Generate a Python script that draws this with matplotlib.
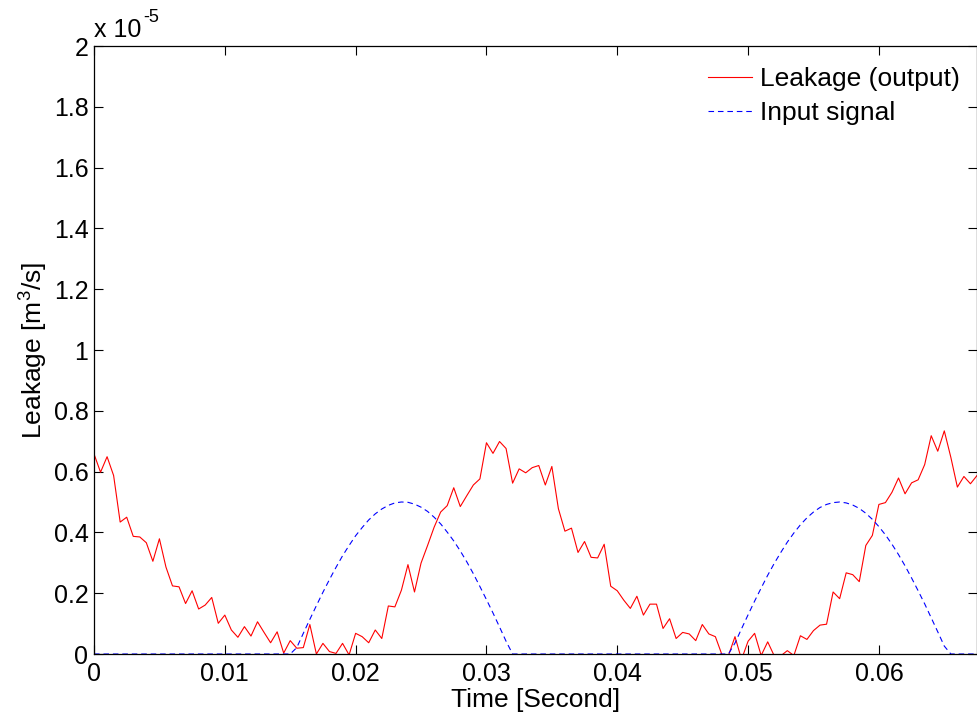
import numpy as np
import matplotlib
matplotlib.use("Agg")
import matplotlib.pyplot as plt
from matplotlib.ticker import FixedLocator

plt.rcParams['font.family'] = ['Liberation Sans', 'DejaVu Sans']
plt.rcParams['mathtext.fontset'] = 'custom'
plt.rcParams['mathtext.rm'] = 'Liberation Sans'

# Sample step [s]
dt = 0.0005

# Leakage (output) in units of 1e-5 m^3/s, one value per sample (136 samples)
leakage = [
    0.658, 0.598, 0.649, 0.587, 0.434, 0.450, 0.387, 0.385, 0.366, 0.305,
    0.379, 0.286, 0.224, 0.221, 0.166, 0.208, 0.148, 0.161, 0.186, 0.101,
    0.128, 0.079, 0.055, 0.090, 0.059, 0.106, 0.071, 0.037, 0.073, 0.003,
    0.044, 0.019, 0.021, 0.097, 0.000, 0.035, 0.008, 0.002, 0.035, -0.003,
    0.068, 0.057, 0.037, 0.079, 0.051, 0.158, 0.155, 0.210, 0.294, 0.204,
    0.299, 0.357, 0.417, 0.467, 0.488, 0.547, 0.485, 0.521, 0.556, 0.576,
    0.695, 0.660, 0.699, 0.676, 0.562, 0.609, 0.596, 0.613, 0.620, 0.556,
    0.617, 0.478, 0.404, 0.414, 0.334, 0.370, 0.318, 0.316, 0.361, 0.223,
    0.208, 0.177, 0.150, 0.190, 0.128, 0.164, 0.164, 0.084, 0.116, 0.051,
    0.071, 0.066, 0.044, 0.097, 0.066, 0.057, -0.002, -0.005, 0.057, -0.018,
    0.042, 0.068, -0.005, 0.040, -0.006, -0.006, 0.011, -0.005, 0.060, 0.048,
    0.077, 0.095, 0.098, 0.204, 0.182, 0.267, 0.261, 0.238, 0.357, 0.390,
    0.492, 0.498, 0.532, 0.579, 0.527, 0.563, 0.573, 0.623, 0.718, 0.667,
    0.734, 0.647, 0.549, 0.584, 0.560, 0.587,
]

# Input signal in units of 1e-5, same sampling (rectified half-waves)
input_signal = (
    [0.0] * 31 +
    [0.021, 0.068, 0.114, 0.159, 0.203, 0.245, 0.285, 0.323, 0.357, 0.389,
     0.416, 0.441, 0.461, 0.477, 0.489, 0.497, 0.500, 0.499, 0.493, 0.483,
     0.469, 0.450, 0.428, 0.401, 0.372, 0.339, 0.303, 0.264, 0.222, 0.179,
     0.135, 0.089, 0.042] +
    [0.0] * 34 +
    [0.036, 0.083, 0.129, 0.174, 0.217, 0.259, 0.298, 0.334, 0.368, 0.398,
     0.425, 0.448, 0.467, 0.482, 0.492, 0.498, 0.500, 0.497, 0.490, 0.479,
     0.463, 0.443, 0.419, 0.392, 0.361, 0.327, 0.290, 0.250, 0.208, 0.165,
     0.119, 0.073, 0.026] +
    [0.0] * 5
)

x_ticks = [0, 0.01, 0.02, 0.03, 0.04, 0.05, 0.06]
x_tick_labels = ['0', '0.01', '0.02', '0.03', '0.04', '0.05', '0.06']
y_ticks = [0, 0.2, 0.4, 0.6, 0.8, 1, 1.2, 1.4, 1.6, 1.8, 2]
y_tick_labels = ['0', '0.2', '0.4', '0.6', '0.8', '1', '1.2', '1.4', '1.6', '1.8', '2']

scale = 1e-5
t = np.arange(len(leakage)) * dt

fig = plt.figure(figsize=(9.77, 7.15), dpi=100)
ax = fig.add_axes([94 / 977, 61 / 715, 883 / 977, 608 / 715])

ax.plot(t, np.array(leakage) * scale, color='#ff0000', lw=0.8, label='Leakage (output)')
ax.plot(t[:len(input_signal)], np.array(input_signal) * scale, color='#0000ff',
        lw=0.8, ls=(0, (5, 3.5)), label='Input signal')

ax.set_xlim(0, 0.0675)
ax.set_ylim(0, 2e-5)
ax.xaxis.set_major_locator(FixedLocator(x_ticks))
ax.set_xticklabels(x_tick_labels)
ax.yaxis.set_major_locator(FixedLocator([v * scale for v in y_ticks]))
ax.set_yticklabels(y_tick_labels)

ax.tick_params(direction='in', length=6.5, width=0.8, labelsize=18,
               top=True, right=True, pad=6)
ax.tick_params(axis='y', pad=4)
for s in ax.spines.values():
    s.set_linewidth(0.9)

ax.set_xlabel('Time [Second]', fontsize=19, labelpad=1)
ax.set_ylabel('Leakage [m$^3$/s]', fontsize=19, labelpad=3)

ax.text(0.0, 1 + 9 / 608, 'x 10', transform=ax.transAxes, fontsize=18,
        ha='left', va='baseline')
ax.text(49 / 883, 1 + 24 / 608, '-5', transform=ax.transAxes, fontsize=13,
        ha='left', va='baseline')

leg = ax.legend(loc='upper right', frameon=False, fontsize=19,
                handlelength=1.67, handletextpad=0.28, labelspacing=0.36,
                borderaxespad=0.0, bbox_to_anchor=(0.992, 0.982))

fig.savefig('out.png', dpi=100)
